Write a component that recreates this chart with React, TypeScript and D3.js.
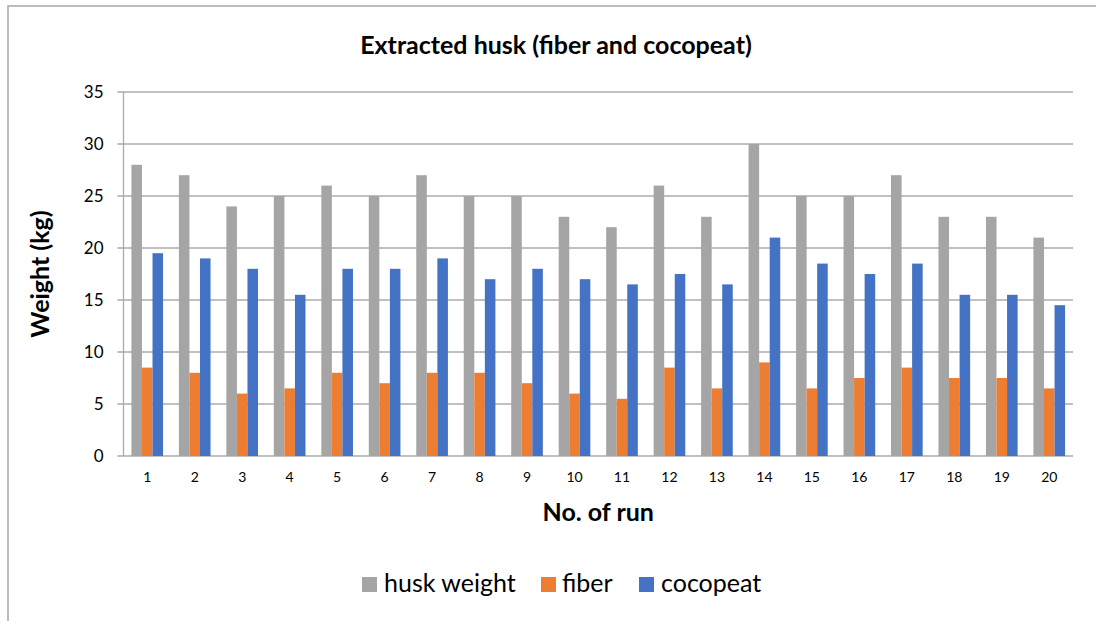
import React from 'react';
import * as d3 from 'd3';

const runs = ['1', '2', '3', '4', '5', '6', '7', '8', '9', '10', '11', '12', '13', '14', '15', '16', '17', '18', '19', '20'];
const huskWeight = [28, 27, 24, 25, 26, 25, 27, 25, 25, 23, 22, 26, 23, 30, 25, 25, 27, 23, 23, 21];
const fiber = [8.5, 8, 6, 6.5, 8, 7, 8, 8, 7, 6, 5.5, 8.5, 6.5, 9, 6.5, 7.5, 8.5, 7.5, 7.5, 6.5];
const cocopeat = [19.5, 19, 18, 15.5, 18, 18, 19, 17, 18, 17, 16.5, 17.5, 16.5, 21, 18.5, 17.5, 18.5, 15.5, 15.5, 14.5];
const yTicks = [0, 5, 10, 15, 20, 25, 30, 35];

const seriesNames = ['husk weight', 'fiber', 'cocopeat'];
const colors = ['#A5A5A5', '#ED7D31', '#4472C4'];

const font = 'Lato, Calibri, sans-serif';

const App = () => {
  const width = 1096;
  const height = 621;
  const margin = { top: 92, right: 23, bottom: 165, left: 123.5 };
  const innerW = width - margin.left - margin.right;
  const innerH = height - margin.top - margin.bottom;

  const xScale = d3.scaleBand().domain(runs).range([0, innerW]).paddingInner(1 / 3).paddingOuter(1 / 6);
  const xSub = d3.scaleBand().domain(seriesNames).range([0, xScale.bandwidth()]);
  const yScale = d3.scaleLinear().domain([0, 35]).range([innerH, 0]);

  const data = [huskWeight, fiber, cocopeat];

  // legend placement
  const legendItems = [
    { sq: 362, tx: 384 },
    { sq: 541, tx: 562 },
    { sq: 639, tx: 661 },
  ];

  return (
    <svg width={width} height={height} style={{ position: 'absolute', left: 0, top: 0, background: '#fff' }}>
      <rect x={8} y={6} width={1200} height={800} fill="#fff" stroke="#A6A6A6" strokeWidth={1.5} />

      <text x={556} y={54} textAnchor="middle" fontFamily={font} fontWeight="bold" fontSize={25} fill="#000">
        Extracted husk (fiber and cocopeat)
      </text>

      <g transform={`translate(${margin.left}, ${margin.top})`}>
        {/* gridlines + y ticks */}
        {yTicks.map((t) => (
          <g key={t}>
            <line x1={-6} x2={innerW} y1={yScale(t)} y2={yScale(t)} stroke="#ABABAB" strokeWidth={1.3} />
            <text x={-20} y={yScale(t) + 6} textAnchor="end" fontFamily={font} fontSize={17} fill="#000">
              {t}
            </text>
          </g>
        ))}
        <line x1={0} x2={0} y1={0} y2={innerH} stroke="#ABABAB" strokeWidth={1.3} />

        {/* bars */}
        {runs.map((r, i) => (
          <g key={r} transform={`translate(${xScale(r)}, 0)`}>
            {data.map((s, j) => (
              <rect
                key={j}
                x={xSub(seriesNames[j])}
                y={yScale(s[i])}
                width={xSub.bandwidth()}
                height={innerH - yScale(s[i])}
                fill={colors[j]}
              />
            ))}
          </g>
        ))}

        {/* x tick labels */}
        {runs.map((r) => (
          <text key={r} x={(xScale(r) as number) + xScale.bandwidth() / 2} y={innerH + 26} textAnchor="middle" fontFamily={font} fontSize={14} fill="#000">
            {r}
          </text>
        ))}

        <text x={innerW / 2} y={innerH + 65} textAnchor="middle" fontFamily={font} fontWeight="bold" fontSize={25} fill="#000">
          No. of run
        </text>
      </g>

      <text transform={`translate(49, ${margin.top + innerH / 2}) rotate(-90)`} textAnchor="middle" fontFamily={font} fontWeight="bold" fontSize={25} fill="#000">
        Weight (kg)
      </text>

      {/* legend */}
      {seriesNames.map((name, j) => (
        <g key={name}>
          <rect x={legendItems[j].sq} y={577} width={15} height={15} fill={colors[j]} />
          <text x={legendItems[j].tx} y={592} fontFamily={font} fontSize={25} fill="#000">
            {name}
          </text>
        </g>
      ))}
    </svg>
  );
};

export default App;
